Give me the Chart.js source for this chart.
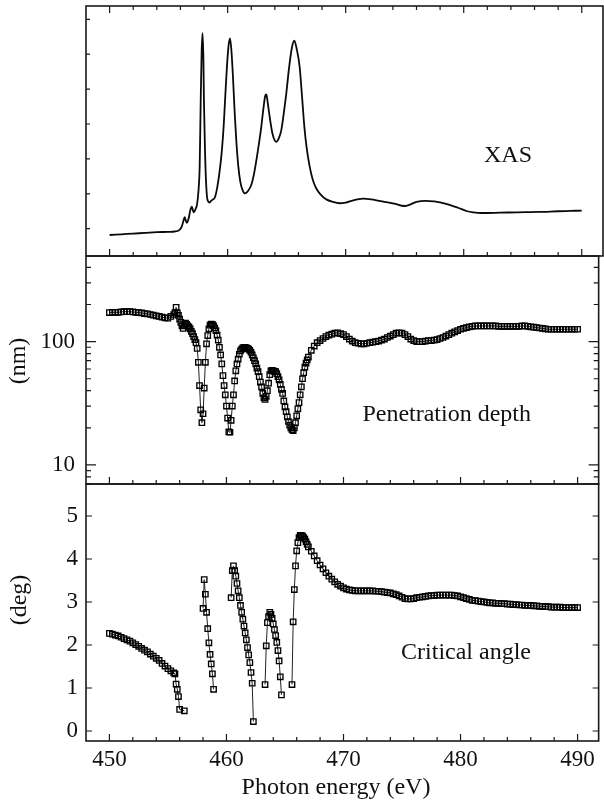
<!DOCTYPE html>
<html>
<head>
<meta charset="utf-8">
<script src="https://cdn.jsdelivr.net/npm/chart.js@4/dist/chart.umd.min.js"></script>
<style>
  html, body { margin: 0; padding: 0; background: #fff; }
  #wrap { position: relative; width: 604px; height: 806px; }
  #wrap canvas { position: absolute; left: 0; top: 0; }
</style>
</head>
<body>
<div id="wrap">
  <canvas id="xas" width="604" height="806"></canvas>
  <canvas id="depth" width="604" height="806"></canvas>
  <canvas id="angle" width="604" height="806"></canvas>
</div>
<script>
// XAS spectrum (arb. units, one unit = one left tick)
const xasEnergy = [450, 451, 452, 453, 454, 455, 455.5, 455.9, 456.1, 456.25, 456.36, 456.45, 456.55, 456.7, 456.85, 456.97,
  457.06, 457.14, 457.3, 457.4, 457.52, 457.63, 457.72, 457.8, 457.88, 457.95, 457.99, 458.08, 458.17, 458.25, 458.35, 458.47,
  458.6, 458.75, 458.9, 459.1, 459.3, 459.5, 459.66, 459.8, 459.94, 460.08, 460.2, 460.32, 460.45, 460.6, 460.73, 460.9,
  461.07, 461.25, 461.46, 461.7, 462, 462.25, 462.48, 462.68, 462.85, 463.05, 463.18, 463.28, 463.4, 463.56, 463.8, 464.12,
  464.35, 464.55, 464.75, 464.97, 465.2, 465.45, 465.65, 465.85, 466.1, 466.3, 466.5, 466.7, 466.95, 467.2, 467.5, 467.9,
  468.36, 468.9, 469.5, 470, 470.5, 471, 471.5, 472, 472.5, 473.3, 474.2, 474.96, 475.5, 476, 476.75, 477.5,
  478.5, 479.5, 480.3, 480.8, 481.5, 483.1, 484.5, 486.4, 488, 489, 490];
const xasSignal = [-0.18, -0.16, -0.14, -0.12, -0.10, -0.09, -0.08, -0.04, 0.05, 0.22, 0.33, 0.24, 0.17, 0.30, 0.55, 0.63,
  0.52, 0.47, 0.58, 0.68, 1.05, 1.78, 3.7, 5.1, 5.6, 4.8, 3.7, 2.25, 1.35, 0.92, 0.78, 0.75,
  0.80, 0.84, 0.88, 1.15, 1.59, 2.2, 2.92, 3.8, 4.64, 5.25, 5.45, 5.1, 4.36, 3.3, 2.54, 1.8,
  1.35, 1.12, 1.01, 1.07, 1.25, 1.6, 2.06, 2.5, 2.92, 3.5, 3.8, 3.85, 3.6, 3.21, 2.72, 2.49,
  2.6, 2.83, 3.3, 3.88, 4.6, 5.2, 5.39, 5.15, 4.64, 3.8, 2.92, 2.3, 1.78, 1.42, 1.16, 0.97,
  0.84, 0.77, 0.73, 0.75, 0.80, 0.84, 0.86, 0.85, 0.82, 0.77, 0.71, 0.65, 0.70, 0.77, 0.80, 0.78,
  0.71, 0.60, 0.50, 0.47, 0.45, 0.46, 0.47, 0.48, 0.50, 0.51, 0.52];

// photon energies (eV) shared by penetration depth and critical angle
const energy = [
  450, 450.25, 450.5, 450.75, 451, 451.25, 451.5, 451.75, 452, 452.25, 452.5, 452.75,
  453, 453.25, 453.5, 453.75, 454, 454.25, 454.5, 454.75, 455, 455.25, 455.5,
  455.6, 455.7, 455.8, 455.9,
  456.0, 456.1, 456.2, 456.3, 456.4, 456.5, 456.6, 456.7, 456.8, 456.9,
  457.0, 457.1, 457.2, 457.3, 457.4, 457.5, 457.6, 457.7, 457.8, 457.9,
  458.0, 458.1, 458.2, 458.3, 458.4, 458.5, 458.6, 458.7, 458.8, 458.9,
  459.0, 459.1, 459.2, 459.3, 459.4, 459.5, 459.6, 459.7, 459.8, 459.9,
  460.0, 460.1, 460.2, 460.3, 460.4, 460.5, 460.6, 460.7, 460.8, 460.9,
  461.0, 461.1, 461.2, 461.3, 461.4, 461.5, 461.6, 461.7, 461.8, 461.9,
  462.0, 462.1, 462.2, 462.3, 462.4, 462.5, 462.6, 462.7, 462.8, 462.9,
  463.0, 463.1, 463.2, 463.3, 463.4, 463.5, 463.6, 463.7, 463.8, 463.9,
  464.0, 464.1, 464.2, 464.3, 464.4, 464.5, 464.6, 464.7, 464.8, 464.9,
  465.0, 465.1, 465.2, 465.3, 465.4, 465.5, 465.6, 465.7, 465.8, 465.9,
  466.0, 466.1, 466.2, 466.3, 466.4, 466.5, 466.6, 466.7, 466.8, 466.9,
  467.0,
  467.25, 467.5, 467.75, 468, 468.25, 468.5, 468.75, 469, 469.25, 469.5, 469.75,
  470, 470.25, 470.5, 470.75, 471, 471.25, 471.5, 471.75, 472, 472.25, 472.5, 472.75,
  473, 473.25, 473.5, 473.75, 474, 474.25, 474.5, 474.75, 475, 475.25, 475.5, 475.75,
  476, 476.25, 476.5, 476.75, 477, 477.25, 477.5, 477.75, 478, 478.25, 478.5, 478.75,
  479, 479.25, 479.5, 479.75, 480, 480.25, 480.5, 480.75, 481, 481.25, 481.5, 481.75,
  482, 482.25, 482.5, 482.75, 483, 483.25, 483.5, 483.75, 484, 484.25, 484.5, 484.75,
  485, 485.25, 485.5, 485.75, 486, 486.25, 486.5, 486.75, 487, 487.25, 487.5, 487.75,
  488, 488.25, 488.5, 488.75, 489, 489.25, 489.5, 489.75, 490];

// penetration depth (nm)
const depth = [
  172, 173, 173, 173, 174, 175, 175, 175, 174, 173, 172, 171,
  169, 168, 166, 164, 162, 160, 158, 156, 155, 160, 166,
  172, 190, 171, 163,
  152, 143, 134, 128, 135, 141, 138, 134, 131, 127,
  121, 116, 110, 104, 98, 88, 68, 44, 28, 22,
  26, 42, 68, 96, 112, 127, 136, 139, 138, 134,
  129, 123, 113, 103, 90, 78, 66, 53, 44, 37,
  30, 24, 18.5, 18.4, 23, 30, 37, 48, 58, 66,
  72, 79, 84, 87, 89, 90, 90, 89, 88, 87,
  85, 82, 78, 74, 70, 66, 61, 57, 52, 47,
  43, 38, 35, 34, 36, 40, 46, 54, 58, 58.5,
  58, 57.5, 57, 55, 52, 49, 45, 41, 38, 33,
  29.5, 27, 24.5, 22.5, 21, 20, 19.3, 19, 20, 22,
  25, 28.5, 32, 37, 43, 50, 56, 62, 67, 71,
  75,
  85, 92, 98, 102, 106, 110, 113, 115, 117, 118, 116,
  114, 110, 105, 101, 98, 97, 96, 96, 97, 98, 99, 100,
  101, 103, 105, 108, 111, 114, 117, 118, 117, 114, 110, 105,
  102, 100, 100, 100, 101, 102, 102, 103, 104, 106, 108, 111,
  114, 117, 120, 123, 126, 128, 130, 132, 133, 134, 134, 134,
  134, 134, 134, 134, 134, 133, 133, 133, 133, 133, 133, 133,
  133, 134, 134, 133, 132, 131, 130, 129, 128, 127, 126, 126,
  126, 126, 126, 126, 126, 126, 126, 126, 126];

// critical angle (deg), null where not defined
const critAngle = [
  2.27, 2.25, 2.23, 2.21, 2.18, 2.15, 2.12, 2.09, 2.05, 2.01, 1.97, 1.92,
  1.88, 1.84, 1.79, 1.74, 1.69, 1.64, 1.57, 1.51, 1.45, 1.40, 1.35,
  1.33, 1.09, 0.97, 0.80,
  0.50, null, null, null, 0.47, null, null, null, null, null,
  null, null, null, null, null, null, null, null, null, null,
  2.85, 3.52, 3.18, 2.76, 2.38, 2.05, 1.78, 1.56, 1.33, 0.97,
  null, null, null, null, null, null, null, null, null, null,
  null, null, null, null, 3.10, 3.73, 3.84, 3.73, 3.60, 3.43,
  3.26, 3.10, 2.92, 2.76, 2.60, 2.44, 2.28, 2.12, 1.94, 1.77,
  1.59, 1.36, 1.11, 0.22, null, null, null, null, null, null,
  null, null, null, 1.08, 1.98, 2.52, 2.66, 2.76, 2.71, 2.62,
  2.49, 2.36, 2.22, 2.06, 1.87, 1.63, 1.26, 0.84, null, null,
  null, null, null, null, null, null, 1.08, 2.54, 3.29, 3.84,
  4.19, 4.38, 4.50, 4.55, 4.55, 4.53, 4.50, 4.46, 4.40, 4.34,
  4.28,
  4.18, 4.07, 3.96, 3.86, 3.77, 3.68, 3.60, 3.53, 3.47, 3.41, 3.37,
  3.33, 3.30, 3.28, 3.27, 3.26, 3.26, 3.26, 3.26, 3.26, 3.26, 3.26, 3.25,
  3.25, 3.24, 3.23, 3.22, 3.21, 3.19, 3.17, 3.14, 3.11, 3.08, 3.07, 3.07,
  3.08, 3.10, 3.11, 3.12, 3.13, 3.14, 3.15, 3.15, 3.16, 3.16, 3.16, 3.16,
  3.16, 3.16, 3.15, 3.14, 3.12, 3.10, 3.08, 3.06, 3.04, 3.03, 3.02, 3.01,
  3.00, 2.99, 2.98, 2.98, 2.97, 2.97, 2.96, 2.96, 2.95, 2.95, 2.94, 2.94,
  2.93, 2.93, 2.92, 2.92, 2.92, 2.91, 2.91, 2.90, 2.90, 2.89, 2.89, 2.88,
  2.88, 2.88, 2.88, 2.87, 2.87, 2.87, 2.87, 2.87, 2.87];

// ticks
const xTickLabels = [450, 460, 470, 480, 490];
const xTickMarks = [450, 452, 454, 456, 458, 460, 462, 464, 466, 468, 470, 472, 474, 476, 478, 480, 482, 484, 486, 488, 490];
const xasTickMarks = [0, 1, 2, 3, 4, 5, 6];
const depthTickLabels = [10, 100];
const depthMinorTicks = [7, 8, 9, 20, 30, 40, 50, 60, 70, 80, 90, 200, 300, 400];
const angleTickLabels = [0, 1, 2, 3, 4, 5];

const serif = 'Liberation Serif';
const ink = '#111';

// frame, inward ticks and in-panel texts
const panelFrame = {
  id: 'panelFrame',
  afterDraw(chart, args, o) {
    const {ctx, chartArea: a, scales: {x, y}} = chart;
    ctx.save();
    ctx.strokeStyle = '#1a1a1a';
    ctx.lineWidth = 1.6;
    ctx.strokeRect(a.left, a.top, a.right - a.left, a.bottom - a.top);
    ctx.lineWidth = 1.2;
    ctx.beginPath();
    xTickMarks.forEach(v => {
      const px = x.getPixelForValue(v);
      const len = v % 10 === 0 ? 7 : 4;
      ctx.moveTo(px, a.bottom); ctx.lineTo(px, a.bottom - len);
      if (o.topTicks) { ctx.moveTo(px, a.top); ctx.lineTo(px, a.top + len); }
    });
    o.yMarks.forEach(([v, len]) => {
      const py = y.getPixelForValue(v);
      ctx.moveTo(a.left, py); ctx.lineTo(a.left + len, py);
      if (o.rightTicks) { ctx.moveTo(a.right, py); ctx.lineTo(a.right - len, py); }
    });
    ctx.stroke();

    ctx.fillStyle = ink;
    ctx.font = '24px "' + serif + '"';
    ctx.textBaseline = 'alphabetic';
    ctx.textAlign = 'right';
    ctx.fillText(o.label, o.labelAt[0], o.labelAt[1]);
    if (o.yTitle) {
      ctx.save();
      ctx.translate(o.yTitleAt[0], o.yTitleAt[1]);
      ctx.rotate(-Math.PI / 2);
      ctx.textAlign = 'center';
      ctx.fillText(o.yTitle, 0, 0);
      ctx.restore();
    }
    if (o.xTitle) {
      ctx.textAlign = 'center';
      ctx.fillText(o.xTitle, o.xTitleAt[0], o.xTitleAt[1]);
    }
    ctx.restore();
  }
};

function xScale(show) {
  const s = {
    type: 'linear', min: 448, max: 491.8, display: show,
    grid: { display: false, drawTicks: false },
    border: { display: false },
    afterBuildTicks: s => { s.ticks = xTickLabels.map(v => ({ value: v })); },
    ticks: { font: { family: serif, size: 23 }, color: ink, padding: 5, maxRotation: 0, autoSkip: false }
  };
  if (show) s.afterFit = sc => { sc.height = 65; };
  return s;
}

function yBase(extra) {
  return Object.assign({
    position: 'left',
    grid: { display: false, drawTicks: false },
    border: { display: false },
    afterFit: s => { s.width = 86; }
  }, extra);
}

const common = {
  responsive: false,
  animation: false,
  devicePixelRatio: 1,
  events: []
};

function squares(values) {
  return energy.map((e, i) => ({ x: e, y: values[i] })).filter(p => p.y !== null);
}

const squareStyle = {
  showLine: true,
  borderColor: '#222',
  borderWidth: 1,
  pointStyle: 'rect',
  pointRadius: 3.8,
  pointBorderWidth: 1.35,
  pointBorderColor: '#000',
  pointBackgroundColor: 'rgba(255,255,255,0)',
  tension: 0,
  spanGaps: 0.5
};

// Panel 1: XAS
new Chart(document.getElementById('xas'), {
  type: 'line',
  data: {
    datasets: [{
      data: xasEnergy.map((e, i) => ({ x: e, y: xasSignal[i] })),
      borderColor: '#0a0a0a',
      borderWidth: 1.8,
      pointRadius: 0,
      cubicInterpolationMode: 'monotone'
    }]
  },
  options: Object.assign({}, common, {
    layout: { padding: { top: 6, bottom: 550, left: 0, right: 1 } },
    plugins: {
      legend: { display: false }, tooltip: { enabled: false },
      panelFrame: {
        topTicks: true, rightTicks: false,
        yMarks: xasTickMarks.map(v => [v, 4]),
        label: 'XAS', labelAt: [532, 162]
      }
    },
    scales: {
      x: xScale(false),
      y: yBase({ type: 'linear', min: -0.782, max: 6.381, ticks: { display: false } })
    }
  }),
  plugins: [panelFrame]
});

// Panel 2: penetration depth
new Chart(document.getElementById('depth'), {
  type: 'line',
  data: { datasets: [Object.assign({ data: squares(depth) }, squareStyle)] },
  options: Object.assign({}, common, {
    layout: { padding: { top: 256, bottom: 322, left: 0, right: 1 } },
    plugins: {
      legend: { display: false }, tooltip: { enabled: false },
      panelFrame: {
        topTicks: false, rightTicks: true,
        yMarks: depthTickLabels.map(v => [v, 10]).concat(depthMinorTicks.map(v => [v, 5])),
        label: 'Penetration depth', labelAt: [531, 421],
        yTitle: '(nm)', yTitleAt: [25, 361]
      }
    },
    scales: {
      x: xScale(false),
      y: yBase({
        type: 'logarithmic', min: 7, max: 495,
        afterBuildTicks: s => { s.ticks = depthTickLabels.map(v => ({ value: v })); },
        ticks: { font: { family: serif, size: 23 }, color: ink, padding: 11, callback: v => String(v) }
      })
    }
  }),
  plugins: [panelFrame]
});

// Panel 3: critical angle
new Chart(document.getElementById('angle'), {
  type: 'line',
  data: { datasets: [Object.assign({ data: squares(critAngle) }, squareStyle)] },
  options: Object.assign({}, common, {
    layout: { padding: { top: 484, bottom: 0, left: 0, right: 1 } },
    plugins: {
      legend: { display: false }, tooltip: { enabled: false },
      panelFrame: {
        topTicks: false, rightTicks: true,
        yMarks: angleTickLabels.map(v => [v, 6]),
        label: 'Critical angle', labelAt: [531, 659],
        yTitle: '(deg)', yTitleAt: [26, 600],
        xTitle: 'Photon energy (eV)', xTitleAt: [336, 794]
      }
    },
    scales: {
      x: xScale(true),
      y: yBase({
        type: 'linear', min: -0.233, max: 5.744,
        afterBuildTicks: s => { s.ticks = angleTickLabels.map(v => ({ value: v })); },
        ticks: { font: { family: serif, size: 23 }, color: ink, padding: 8 }
      })
    }
  }),
  plugins: [panelFrame]
});
</script>
</body>
</html>
